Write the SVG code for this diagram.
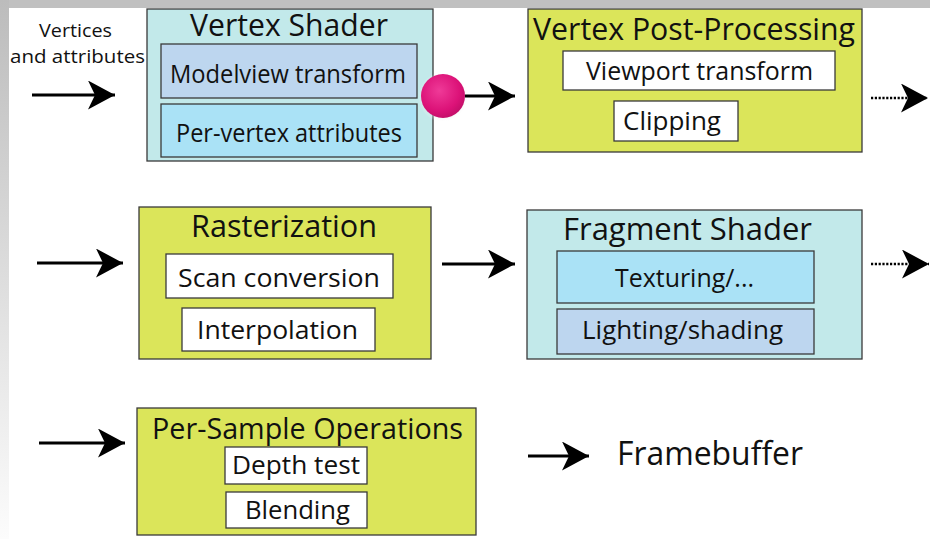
<svg xmlns="http://www.w3.org/2000/svg" width="930" height="539" viewBox="0 0 930 539">
<defs>
<style>
.t{font-family:"Open Sans","Liberation Sans",sans-serif;fill:#111;}
.ti{font-size:30.5px;}
.in{font-size:25.5px;}
.box{stroke:#3a3a3a;stroke-width:1.3;}
.cy{fill:#c2e9ea;}
.yg{fill:#dbe55a;}
.lb{fill:#bdd6ef;}
.sb{fill:#aae2f6;}
.wh{fill:#ffffff;}
.ar{stroke:#000;stroke-width:3;fill:none;marker-end:url(#ah);}
.dt{stroke-dasharray:2.2 1.6;stroke-width:2.6;}
</style>
<marker id="ah" markerUnits="userSpaceOnUse" markerWidth="28" markerHeight="30" refX="27" refY="14.5" orient="auto" viewBox="0 0 28 30">
<path d="M27,14.5 L0,0 L7,14.5 L0,29 Z" fill="#000"/>
</marker>
<linearGradient id="lg" x1="0" y1="0" x2="0" y2="1">
<stop offset="0" stop-color="#bcbcbc"/>
<stop offset="1" stop-color="#fcfcfc"/>
</linearGradient>
<radialGradient id="ball" cx="0.42" cy="0.38" r="0.65">
<stop offset="0" stop-color="#ef3a98"/>
<stop offset="0.7" stop-color="#dc1278"/>
<stop offset="1" stop-color="#c20e68"/>
</radialGradient>
<radialGradient id="halo" cx="0.5" cy="0.5" r="0.5">
<stop offset="0.75" stop-color="#e0e0e0" stop-opacity="0.6"/>
<stop offset="1" stop-color="#ffffff" stop-opacity="0"/>
</radialGradient>
</defs>
<rect x="0" y="0" width="930" height="539" fill="#ffffff"/>
<rect x="0" y="0" width="930" height="8" fill="#c0c0c0"/>
<rect x="0" y="0" width="9" height="539" fill="url(#lg)"/>

<g id="input-label">
<text class="t" x="39" y="37" font-size="19" textLength="73" lengthAdjust="spacingAndGlyphs">Vertices</text>
<text class="t" x="10" y="63" font-size="19" textLength="135" lengthAdjust="spacingAndGlyphs">and attributes</text>
</g>

<g id="vertex-shader">
<rect class="box cy" x="147" y="9" width="286" height="152"/>
<text class="t ti" x="190" y="36" textLength="198" lengthAdjust="spacingAndGlyphs">Vertex Shader</text>
<rect class="box lb" x="161" y="44" width="256" height="54"/>
<text class="t in" x="170" y="83" textLength="236" lengthAdjust="spacingAndGlyphs">Modelview transform</text>
<rect class="box sb" x="161" y="104" width="256" height="53"/>
<text class="t in" x="176" y="142" textLength="226" lengthAdjust="spacingAndGlyphs">Per-vertex attributes</text>
</g>

<g id="vertex-post-processing">
<rect class="box yg" x="528" y="9" width="334" height="143"/>
<text class="t ti" x="533" y="40" textLength="322" lengthAdjust="spacingAndGlyphs">Vertex Post-Processing</text>
<rect class="box wh" x="563" y="51" width="272" height="39"/>
<text class="t in" x="586" y="80" textLength="227" lengthAdjust="spacingAndGlyphs">Viewport transform</text>
<rect class="box wh" x="614" y="101" width="124" height="40"/>
<text class="t in" x="623" y="130" textLength="98" lengthAdjust="spacingAndGlyphs">Clipping</text>
</g>

<g id="rasterization">
<rect class="box yg" x="139" y="207" width="292" height="152"/>
<text class="t ti" x="191" y="237" textLength="186" lengthAdjust="spacingAndGlyphs">Rasterization</text>
<rect class="box wh" x="166" y="254" width="227" height="44"/>
<text class="t in" x="178" y="286.5" textLength="202" lengthAdjust="spacingAndGlyphs">Scan conversion</text>
<rect class="box wh" x="182" y="308" width="193" height="43"/>
<text class="t in" x="197" y="338.5" textLength="161" lengthAdjust="spacingAndGlyphs">Interpolation</text>
</g>

<g id="fragment-shader">
<rect class="box cy" x="527" y="210" width="335" height="149"/>
<text class="t ti" x="563" y="240" textLength="249" lengthAdjust="spacingAndGlyphs">Fragment Shader</text>
<rect class="box sb" x="557" y="251" width="257" height="52"/>
<text class="t in" x="615" y="287" textLength="139" lengthAdjust="spacingAndGlyphs">Texturing/...</text>
<rect class="box lb" x="557" y="309" width="257" height="45"/>
<text class="t in" x="582" y="339" textLength="201" lengthAdjust="spacingAndGlyphs">Lighting/shading</text>
</g>

<g id="per-sample-operations">
<rect class="box yg" x="137" y="408" width="339" height="127"/>
<text class="t" x="152" y="439" font-size="29" textLength="311" lengthAdjust="spacingAndGlyphs">Per-Sample Operations</text>
<rect class="box wh" x="225" y="447" width="142" height="37"/>
<text class="t in" x="232" y="474" textLength="128" lengthAdjust="spacingAndGlyphs">Depth test</text>
<rect class="box wh" x="226" y="492" width="141" height="36"/>
<text class="t in" x="245" y="519" textLength="105" lengthAdjust="spacingAndGlyphs">Blending</text>
</g>

<g id="framebuffer">
<text class="t" x="617" y="465" font-size="33" textLength="186" lengthAdjust="spacingAndGlyphs">Framebuffer</text>
</g>

<g id="connectors">
<line class="ar" x1="32" y1="95" x2="115" y2="95"/>
<circle cx="443" cy="97" r="25" fill="url(#halo)"/>
<circle id="shader-output" cx="443" cy="96" r="22" fill="url(#ball)"/>
<line class="ar" x1="465" y1="96" x2="515" y2="96"/>
<line class="ar dt" x1="871" y1="98" x2="928" y2="98"/>
<line class="ar" x1="37" y1="263" x2="123" y2="263"/>
<line class="ar" x1="442" y1="264" x2="515" y2="264"/>
<line class="ar dt" x1="871" y1="264" x2="929" y2="264"/>
<line class="ar" x1="39" y1="443" x2="125" y2="443"/>
<line class="ar" x1="528" y1="456" x2="589" y2="456"/>
</g>
</svg>
